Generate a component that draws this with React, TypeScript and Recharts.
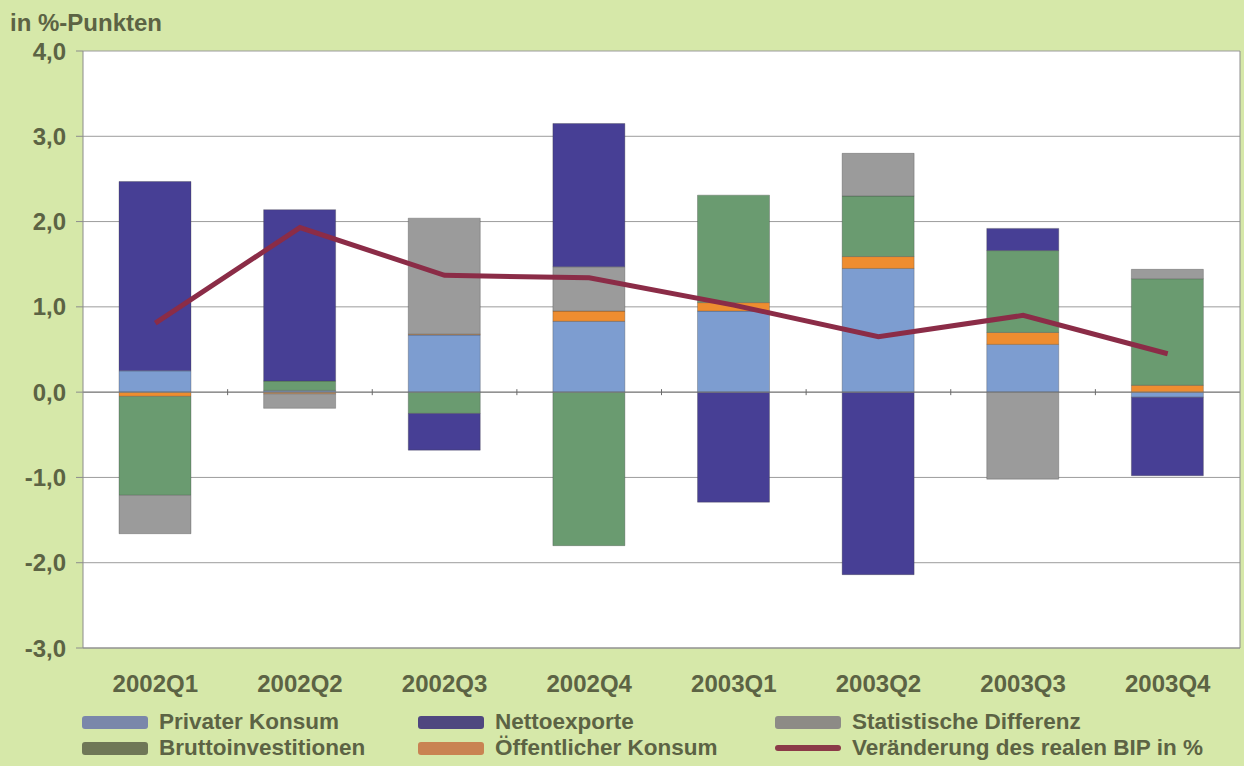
import React from 'react';
import { ComposedChart, Bar, Line, XAxis, YAxis, CartesianGrid, ReferenceLine } from 'recharts';

const quarters = ['2002Q1', '2002Q2', '2002Q3', '2002Q4', '2003Q1', '2003Q2', '2003Q3', '2003Q4'];
const privaterKonsum = [0.25, 0.02, 0.67, 0.83, 0.95, 1.45, 0.56, -0.06];
const oeffentlicherKonsum = [-0.05, -0.02, 0.01, 0.12, 0.1, 0.14, 0.14, 0.08];
const bruttoinvestitionen = [-1.16, 0.11, -0.25, -1.8, 1.26, 0.71, 0.96, 1.25];
const statistischeDifferenz = [-0.45, -0.17, 1.36, 0.52, 0, 0.5, -1.02, 0.11];
const nettoexporte = [2.22, 2.01, -0.43, 1.68, -1.29, -2.14, 0.26, -0.92];
const bipVeraenderung = [0.81, 1.93, 1.37, 1.34, 1.02, 0.65, 0.9, 0.45];
const yTicks = [-3, -2, -1, 0, 1, 2, 3, 4];

const data = quarters.map((q, i) => ({
  q,
  privat: privaterKonsum[i],
  oeff: oeffentlicherKonsum[i],
  brutto: bruttoinvestitionen[i],
  stat: statistischeDifferenz[i],
  netto: nettoexporte[i],
  bip: bipVeraenderung[i],
}));

const FONT = '"Liberation Sans", Arial, sans-serif';
const TEXT = '#5c6344';
const BG = '#d6e8a9';
const AXIS = '#8c8c8c';

const legendItems = [
  { label: 'Privater Konsum', color: '#7a87aa', x: 82, row: 0 },
  { label: 'Bruttoinvestitionen', color: '#6f7757', x: 82, row: 1 },
  { label: 'Nettoexporte', color: '#4f477f', x: 418, row: 0 },
  { label: 'Öffentlicher Konsum', color: '#c98352', x: 418, row: 1 },
  { label: 'Statistische Differenz', color: '#8d8b86', x: 775, row: 0 },
  { label: 'Veränderung des realen BIP in %', color: '#8b3a48', x: 775, row: 1, line: true },
];

const fmt = (v: number) => v.toFixed(1).replace('.', ',');

// zero line with small tick marks between the quarters
const ZeroLine = (props: any) => {
  const { x1, y1, x2 } = props;
  const step = (x2 - x1) / quarters.length;
  return (
    <g>
      <line x1={x1} y1={y1} x2={x2} y2={y1} stroke="#7a7a7a" />
      {quarters.slice(1).map((q, i) => (
        <line key={q} x1={x1 + step * (i + 1)} x2={x1 + step * (i + 1)} y1={y1 - 3} y2={y1 + 3} stroke="#6a6a6a" />
      ))}
    </g>
  );
};

export default function App() {
  return (
    <div style={{ position: 'relative', width: 1244, height: 766, background: BG, fontFamily: FONT }}>
      <style>{'body{margin:0}'}</style>
      <div style={{ position: 'absolute', left: 10, top: 9, fontSize: 24, lineHeight: '28px', fontWeight: 'bold', color: TEXT }}>
        in %-Punkten
      </div>
      <ComposedChart
        width={1244}
        height={766}
        data={data}
        stackOffset="sign"
        margin={{ top: 51, right: 3, bottom: 68, left: 10 }}
      >
        <CartesianGrid vertical={false} stroke="#9c9c9c" fill="#ffffff" />
        <XAxis
          dataKey="q"
          height={50}
          tickLine={false}
          tickSize={0}
          tickMargin={27}
          axisLine={{ stroke: AXIS }}
          tick={{ fill: TEXT, fontSize: 24, fontWeight: 'bold', fontFamily: FONT }}
        />
        <YAxis
          width={73}
          domain={[-3, 4]}
          ticks={yTicks}
          tickFormatter={fmt}
          tickSize={7}
          tickMargin={10}
          axisLine={{ stroke: AXIS }}
          tickLine={{ stroke: AXIS }}
          tick={{ fill: TEXT, fontSize: 24, fontWeight: 'bold', fontFamily: FONT }}
        />
        <YAxis
          yAxisId="border"
          orientation="right"
          width={1}
          domain={[-3, 4]}
          tick={false}
          tickLine={false}
          axisLine={{ stroke: AXIS }}
        />
        <Bar dataKey="privat" stackId="a" fill="#7d9dd0" stroke="rgba(60,60,60,0.3)" barSize={72} isAnimationActive={false} />
        <Bar dataKey="oeff" stackId="a" fill="#ee8d30" stroke="rgba(60,60,60,0.3)" barSize={72} isAnimationActive={false} />
        <Bar dataKey="brutto" stackId="a" fill="#6a9b70" stroke="rgba(60,60,60,0.3)" barSize={72} isAnimationActive={false} />
        <Bar dataKey="stat" stackId="a" fill="#9b9b9b" stroke="rgba(60,60,60,0.3)" barSize={72} isAnimationActive={false} />
        <Bar dataKey="netto" stackId="a" fill="#473f95" stroke="rgba(60,60,60,0.3)" barSize={72} isAnimationActive={false} />
        <ReferenceLine y={0} shape={ZeroLine} />
        <Line
          dataKey="bip"
          type="linear"
          stroke="#8b2c47"
          strokeWidth={5}
          dot={false}
          activeDot={false}
          isAnimationActive={false}
        />
      </ComposedChart>
      {legendItems.map((it) => (
        <div
          key={it.label}
          style={{
            position: 'absolute',
            left: it.x,
            top: (it.row === 0 ? 722 : 748) - 13,
            height: 26,
            display: 'flex',
            alignItems: 'center',
            fontSize: 22.5,
            fontWeight: 'bold',
            color: TEXT,
            whiteSpace: 'nowrap',
          }}
        >
          <span
            style={{
              display: 'inline-block',
              width: 66,
              height: it.line ? 6 : 13,
              borderRadius: 3,
              background: it.color,
              marginRight: 11,
            }}
          />
          {it.label}
        </div>
      ))}
    </div>
  );
}
